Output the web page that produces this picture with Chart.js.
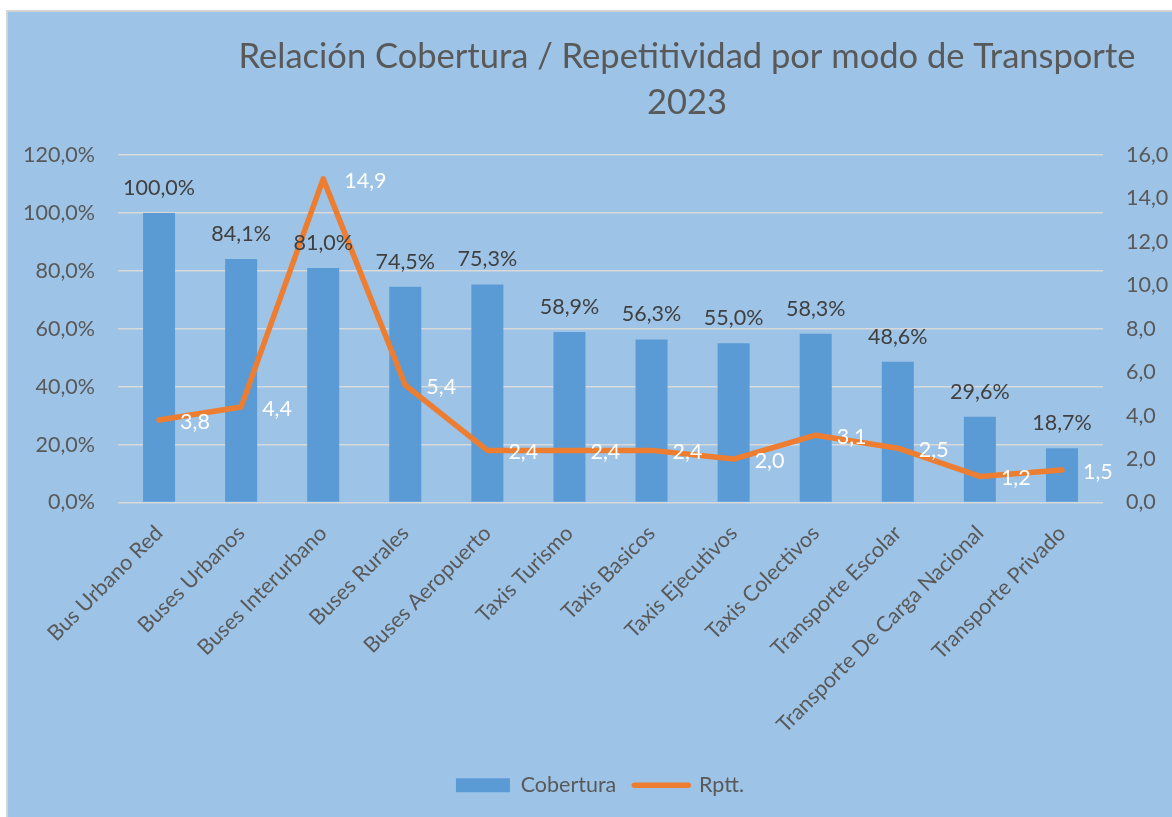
<!DOCTYPE html>
<html>
<head>
<meta charset="utf-8">
<script src="https://cdn.jsdelivr.net/npm/chart.js@4.4.1/dist/chart.umd.min.js"></script>
<style>
  html, body { margin: 0; padding: 0; background: #ffffff; overflow: hidden; width: 1172px; height: 817px; }
  #frame { position: absolute; left: 6px; top: 10px; width: 1200px; height: 840px; border-left: 2px solid #d4d4d4; border-top: 2px solid #d4d4d4; background: #9DC3E6; }
  #c { position: absolute; left: 0; top: 0; }
</style>
</head>
<body>
<div id="frame"><canvas id="c" width="1164" height="805"></canvas></div>
<script>
const categories = ['Bus Urbano Red','Buses Urbanos','Buses Interurbano','Buses Rurales','Buses Aeropuerto','Taxis Turismo','Taxis Basicos','Taxis Ejecutivos','Taxis Colectivos','Transporte Escolar','Transporte De Carga Nacional','Transporte Privado'];
const cobertura = [100.0, 84.1, 81.0, 74.5, 75.3, 58.9, 56.3, 55.0, 58.3, 48.6, 29.6, 18.7];
const rptt = [3.8, 4.4, 14.9, 5.4, 2.4, 2.4, 2.4, 2.0, 3.1, 2.5, 1.2, 1.5];
const titleLines = ['Relación Cobertura / Repetitividad por modo de Transporte', '2023'];
const leftTicks = [0, 20, 40, 60, 80, 100, 120];
const rightTicks = [0, 2, 4, 6, 8, 10, 12, 14, 16];

const FONT = 'Lato, "Open Sans", sans-serif';
const fmt = v => v.toFixed(1).replace('.', ',');

const labelsPlugin = {
  id: 'valueLabels',
  afterDatasetsDraw(chart) {
    const ctx = chart.ctx;
    ctx.save();
    ctx.font = '21.5px ' + FONT;
    const barMeta = chart.getDatasetMeta(0);
    ctx.fillStyle = '#404040';
    ctx.textAlign = 'center';
    ctx.textBaseline = 'middle';
    barMeta.data.forEach((el, i) => {
      ctx.fillText(fmt(cobertura[i]) + '%', el.x, el.y - 25);
    });
    const lineMeta = chart.getDatasetMeta(1);
    ctx.fillStyle = '#ffffff';
    ctx.textAlign = 'left';
    lineMeta.data.forEach((el, i) => {
      ctx.fillText(fmt(rptt[i]), el.x + 21, el.y + 2);
    });
    ctx.restore();
  }
};

const titlePlugin = {
  id: 'sideTitle',
  afterLayout(chart) {
    if (chart.legend) { chart.legend.left += 20; }
  },
  afterDraw(chart) {
    const ctx = chart.ctx;
    ctx.save();
    ctx.font = '34.5px ' + FONT;
    ctx.fillStyle = '#595959';
    ctx.textAlign = 'center';
    ctx.textBaseline = 'alphabetic';
    ctx.fillText(titleLines[0], 679, 56);
    ctx.fillText(titleLines[1], 679, 102);
    ctx.restore();
  }
};

new Chart(document.getElementById('c'), {
  data: {
    labels: categories,
    datasets: [
      {
        type: 'bar',
        label: 'Cobertura',
        data: cobertura,
        backgroundColor: '#5B9BD5',
        borderWidth: 0,
        yAxisID: 'y',
        order: 2,
        barPercentage: 0.39,
        categoryPercentage: 1.0
      },
      {
        type: 'line',
        label: 'Rptt.',
        data: rptt,
        borderColor: '#ED7D31',
        backgroundColor: '#ED7D31',
        borderWidth: 5.5,
        borderCapStyle: 'round',
        borderJoinStyle: 'round',
        pointRadius: 0,
        pointHoverRadius: 0,
        tension: 0,
        yAxisID: 'y1',
        order: 1
      }
    ]
  },
  options: {
    responsive: false,
    animation: false,
    devicePixelRatio: 1,
    layout: { padding: { top: 143, bottom: 11, left: 0, right: 0 } },
    scales: {
      x: {
        grid: { display: false },
        border: { display: false },
        ticks: {
          autoSkip: false,
          minRotation: 45,
          maxRotation: 45,
          padding: 10,
          color: '#595959',
          font: { family: FONT, size: 21.5 }
        },
        afterFit(s) { s.height = 254; s.paddingLeft = 0; s.paddingRight = 0; }
      },
      y: {
        position: 'left',
        min: 0, max: 120,
        afterBuildTicks(s) { s.ticks = leftTicks.map(v => ({ value: v })); },
        grid: { color: '#D9D9D9', lineWidth: 1.5, drawTicks: false },
        border: { display: false },
        ticks: {
          padding: 23,
          color: '#595959',
          font: { family: FONT, size: 21.5 },
          callback: v => fmt(v) + '%'
        },
        afterFit(s) { s.width = 110; s.paddingTop = 0; s.paddingBottom = 0; }
      },
      y1: {
        position: 'right',
        min: 0, max: 16,
        afterBuildTicks(s) { s.ticks = rightTicks.map(v => ({ value: v })); },
        grid: { display: false, drawTicks: false },
        border: { display: false },
        ticks: {
          padding: 23,
          color: '#595959',
          font: { family: FONT, size: 21.5 },
          callback: v => fmt(v)
        },
        afterFit(s) { s.width = 69; s.paddingTop = 0; s.paddingBottom = 0; }
      }
    },
    plugins: {
      title: { display: false },
      tooltip: { enabled: false },
      legend: {
        position: 'bottom',
        labels: {
          usePointStyle: true,
          pointStyleWidth: 54,
          boxHeight: 14,
          padding: 18,
          color: '#595959',
          font: { family: FONT, size: 21.5 },
          generateLabels(chart) {
            const items = Chart.defaults.plugins.legend.labels.generateLabels(chart);
            items.sort((a, b) => a.datasetIndex - b.datasetIndex);
            items.forEach(it => {
              if (it.datasetIndex === 0) { it.pointStyle = 'rect'; it.lineWidth = 0; }
              else { it.pointStyle = 'line'; it.lineWidth = 5.5; it.lineCap = 'round'; it.strokeStyle = '#ED7D31'; }
            });
            return items;
          }
        }
      }
    }
  },
  plugins: [labelsPlugin, titlePlugin]
});
</script>
</body>
</html>
